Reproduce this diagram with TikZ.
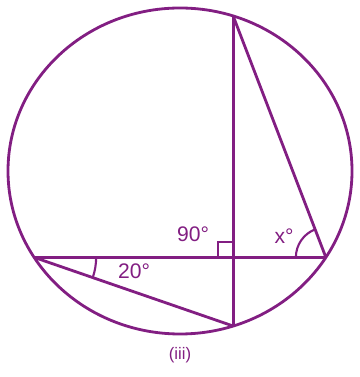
\documentclass[tikz,border=0pt]{standalone}
\usepackage{fontspec}
\setsansfont{Liberation Sans}
\usepackage{tikz}
\usetikzlibrary{calc}
\definecolor{chordpurple}{RGB}{130, 30, 130}
\tikzset{
    chord/.style={draw=chordpurple, line width=1.6pt, line join=round},
    anglemark/.style={draw=chordpurple, line width=1.2pt},
    anglelabel/.style={text=chordpurple, font=\sffamily\fontsize{12}{12}\selectfont, inner sep=0pt},
    caption/.style={text=chordpurple, font=\sffamily\fontsize{9.5}{9.5}\selectfont, inner sep=0pt}
}

\begin{document}
\begin{tikzpicture}[x=0.02cm, y=0.02cm]
        \useasboundingbox (0,0) rectangle (359,377);
        \coordinate (centre) at (180,206);
        \draw[chord] (centre) ellipse [x radius=172, y radius=163];

        % points on the circle
        \coordinate (top) at ($(centre)+(72:172 and 163)$);
        \coordinate (bottom) at ($(centre)+(-72:172 and 163)$);
        \coordinate (left) at ($(centre)+(212:172 and 163)$);
        \coordinate (right) at ($(centre)+(-32:172 and 163)$);
        \coordinate (foot) at (top |- left);

        \draw[chord] (left) -- (right);
        \draw[chord] (top) -- (bottom);
        \draw[chord] (top) -- (right);
        \draw[chord] (left) -- (bottom);

        % right angle and the two angle arcs
        \draw[anglemark] ($(foot)+(-15,0)$) -- ++(0,15) -- ($(foot)+(0,15)$);
        \draw[anglemark] ($(left)+(62,0)$) arc[start angle=0, end angle=-19, radius=62];
        \draw[anglemark] ($(right)+(-30,0)$) arc[start angle=180, end angle=111, radius=30];

        \node[anglelabel] (ninety) at (193,143) {90°};
        \node[anglelabel] (xangle) at (284,141) {x°};
        \node[anglelabel] (twenty) at (134,106) {20°};
        \node[caption] (label) at (180,22) {(iii)};
      \end{tikzpicture}
\end{document}
